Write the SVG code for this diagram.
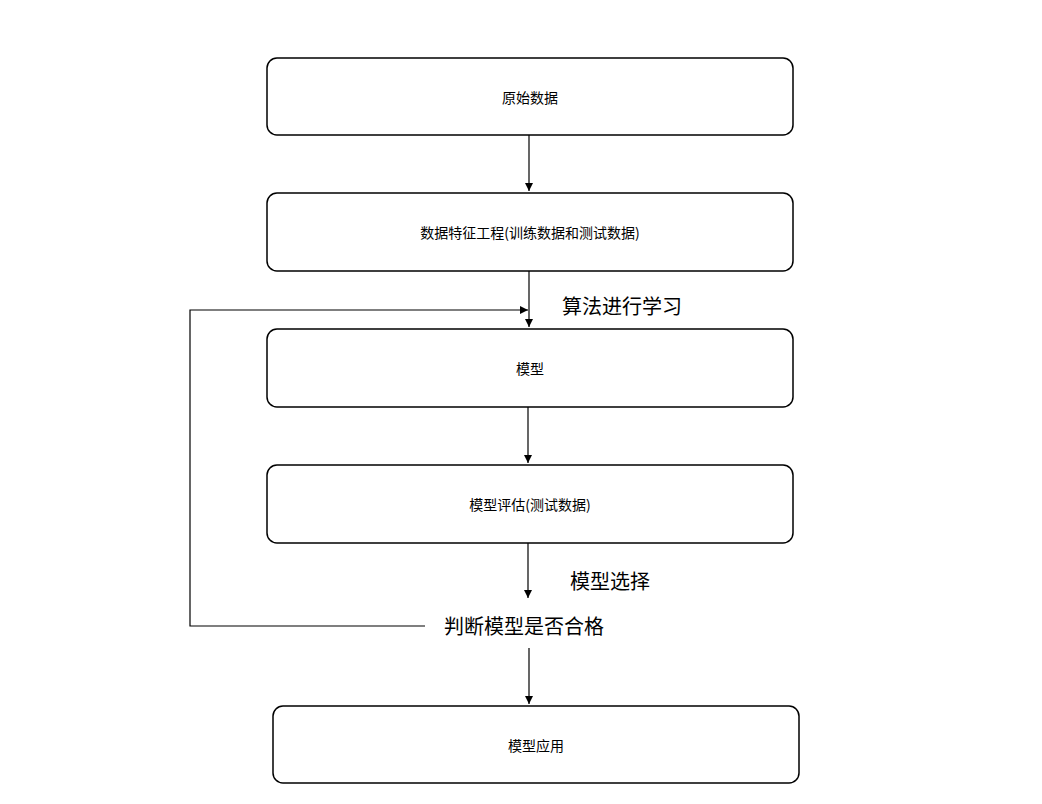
<svg xmlns="http://www.w3.org/2000/svg" width="1042" height="804" viewBox="0 0 1042 804">
<style>
.b{fill:#fff;stroke:#000;stroke-width:1.5}
.t{font-family:"Noto Sans CJK SC","Liberation Sans",sans-serif;font-size:14px;text-anchor:middle;dominant-baseline:central}
.l{font-family:"Noto Sans CJK SC","Liberation Sans",sans-serif;font-size:20px;dominant-baseline:central}
.c{fill:none;stroke:#000;stroke-width:1.2;marker-end:url(#a)}
</style>
<defs><marker id="a" viewBox="0 0 10 10" refX="10" refY="5" markerWidth="8" markerHeight="8" orient="auto" markerUnits="userSpaceOnUse"><path d="M0,0L10,5L0,10z"/></marker></defs>
<rect width="1042" height="804" fill="#fff"/>
<g id="n1"><rect class="b" x="267" y="58" width="526" height="77" rx="10"/><text class="t" x="530" y="97">原始数据</text></g>
<g id="n2"><rect class="b" x="267" y="193" width="526" height="78" rx="10"/><text class="t" x="530" y="232">数据特征工程(训练数据和测试数据)</text></g>
<g id="n3"><rect class="b" x="267" y="329" width="526" height="78" rx="10"/><text class="t" x="530" y="368">模型</text></g>
<g id="n4"><rect class="b" x="267" y="465" width="526" height="78" rx="10"/><text class="t" x="530" y="504">模型评估(测试数据)</text></g>
<g id="n5"><rect class="b" x="273" y="706" width="526" height="77" rx="10"/><text class="t" x="536" y="745">模型应用</text></g>
<g id="n6"><text class="l" x="444" y="625">判断模型是否合格</text></g>
<g id="connectors">
<path class="c" d="M529,135L529,191"/>
<path class="c" d="M529,271L529,327"/>
<path class="c" d="M425,626L190,626L190,310L528,310"/>
<path class="c" d="M528,407L528,463"/>
<path class="c" d="M528,543L528,598"/>
<path class="c" d="M529,648L529,704"/>
<text class="l" x="562" y="305">算法进行学习</text>
<text class="l" x="570" y="580">模型选择</text>
</g>
</svg>
